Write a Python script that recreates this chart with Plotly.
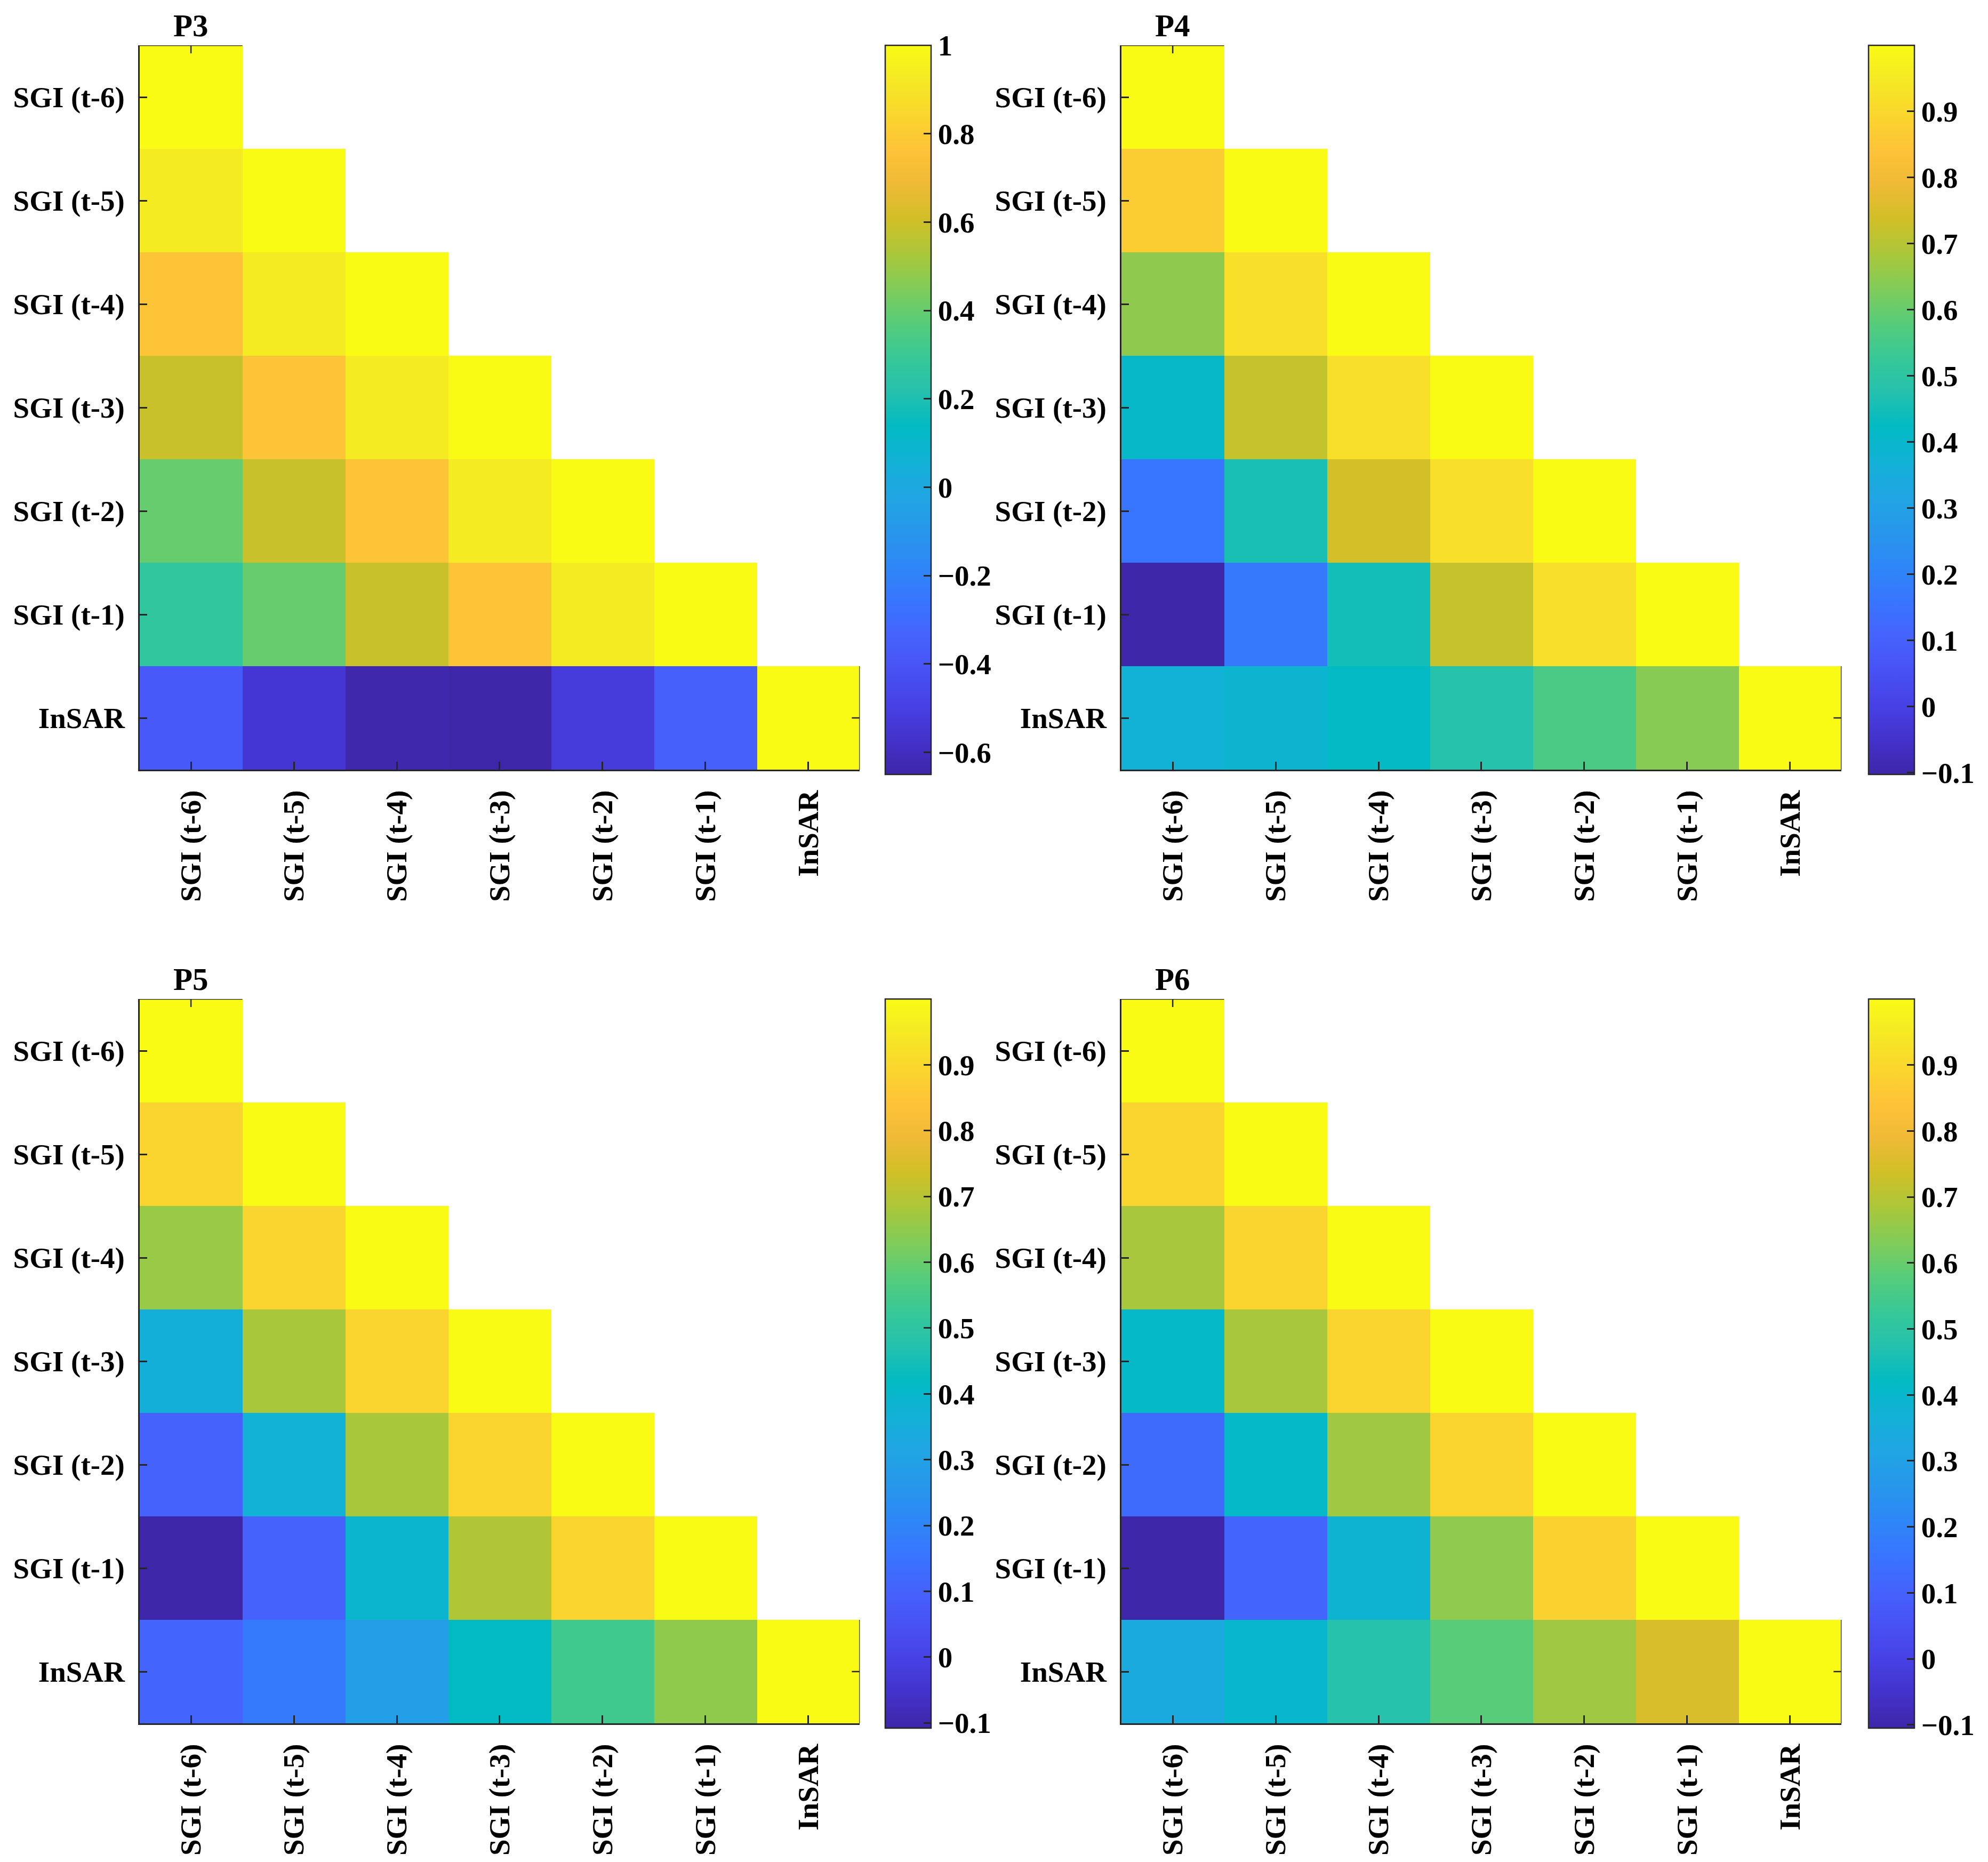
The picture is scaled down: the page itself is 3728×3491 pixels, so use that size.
import plotly.graph_objects as go

# variable names on both axes
labels = ["SGI (t-6)", "SGI (t-5)", "SGI (t-4)", "SGI (t-3)", "SGI (t-2)", "SGI (t-1)", "InSAR"]

# lower triangle of each correlation matrix, one row per label
p3_corr = [
    [1.0],
    [0.93, 1.0],
    [0.77, 0.93, 1.0],
    [0.59, 0.77, 0.93, 1.0],
    [0.40, 0.59, 0.77, 0.93, 1.0],
    [0.27, 0.40, 0.59, 0.77, 0.93, 1.0],
    [-0.38, -0.55, -0.64, -0.65, -0.52, -0.35, 1.0],
]
p4_corr = [
    [1.0],
    [0.87, 1.0],
    [0.65, 0.92, 1.0],
    [0.41, 0.72, 0.92, 1.0],
    [0.16, 0.46, 0.74, 0.92, 1.0],
    [-0.103, 0.17, 0.45, 0.72, 0.92, 1.0],
    [0.37, 0.39, 0.42, 0.48, 0.56, 0.64, 1.0],
]
p5_corr = [
    [1.0],
    [0.89, 1.0],
    [0.66, 0.89, 1.0],
    [0.36, 0.68, 0.89, 1.0],
    [0.10, 0.37, 0.68, 0.89, 1.0],
    [-0.108, 0.10, 0.39, 0.69, 0.89, 1.0],
    [0.11, 0.17, 0.29, 0.42, 0.54, 0.65, 1.0],
]
p6_corr = [
    [1.0],
    [0.89, 1.0],
    [0.68, 0.89, 1.0],
    [0.41, 0.68, 0.89, 1.0],
    [0.13, 0.41, 0.67, 0.89, 1.0],
    [-0.105, 0.11, 0.38, 0.65, 0.88, 1.0],
    [0.34, 0.40, 0.48, 0.58, 0.67, 0.75, 1.0],
]

panel_names = ["P3", "P4", "P5", "P6"]
panel_data = [p3_corr, p4_corr, p5_corr, p6_corr]
p3_cbar_ticks = [-0.6, -0.4, -0.2, 0, 0.2, 0.4, 0.6, 0.8, 1]
other_cbar_ticks = [-0.1, 0, 0.1, 0.2, 0.3, 0.4, 0.5, 0.6, 0.7, 0.8, 0.9]
cbar_ticks = [p3_cbar_ticks, other_cbar_ticks, other_cbar_ticks, other_cbar_ticks]

# MATLAB parula, every third entry of the 64-colour table
parula_rgb = [
    (0.2422, 0.1504, 0.6603), (0.2647, 0.1978, 0.7952), (0.2783, 0.2559, 0.8991),
    (0.2810, 0.3228, 0.9579), (0.2699, 0.3892, 0.9906), (0.2206, 0.4603, 0.9973),
    (0.1786, 0.5289, 0.9682), (0.1540, 0.5902, 0.9218), (0.1248, 0.6459, 0.8883),
    (0.0689, 0.6948, 0.8394), (0.0067, 0.7312, 0.7660), (0.1408, 0.7584, 0.6842),
    (0.2161, 0.7843, 0.5923), (0.3406, 0.8008, 0.4789), (0.5044, 0.7993, 0.3480),
    (0.6720, 0.7793, 0.2227), (0.8203, 0.7498, 0.1535), (0.9393, 0.7288, 0.2100),
    (0.9970, 0.7659, 0.2199), (0.9786, 0.8386, 0.1766), (0.9597, 0.9135, 0.1423),
    (0.9769, 0.9839, 0.0805),
]
parula = [[i / (len(parula_rgb) - 1), "rgb(%d,%d,%d)" % tuple(round(c * 255) for c in rgb)]
          for i, rgb in enumerate(parula_rgb)]

# the page body adds an 8px margin, so the figure is a little smaller than the window
PAD = 8
W, H = 3728 - 2 * PAD, 3491 - 2 * PAD
axis_col = "#262626"
font = dict(family="Liberation Serif", size=55, color="black", weight="bold")
title_font = dict(family="Liberation Serif", size=59, color="black", weight="bold")

# window-pixel boxes: columns (left, right, colorbar left), rows (top, bottom, colorbar bottom)
col_x = [(263, 1621, 1669), (2114, 3472, 3523)]
row_y = [(85, 1443, 1452), (1873, 3231, 3240)]


def full_matrix(tri):
    n = len(labels)
    return [[tri[r][c] if c <= r else None for c in range(n)] for r in range(n)]


def fx(px):
    return (px - PAD) / W


def fy(px):
    return 1 - (px - PAD) / H


fig = go.Figure()
layout = dict(width=W, height=H, margin=dict(l=0, r=0, t=0, b=0),
              paper_bgcolor="white", plot_bgcolor="white", font=font,
              showlegend=False, shapes=[], annotations=[])

n = len(labels)
for k, (name, tri) in enumerate(zip(panel_names, panel_data)):
    r, c = divmod(k, 2)
    x_l, x_r, cb_x = col_x[c]
    y_t, y_b, cb_b = row_y[r]
    sfx = "" if k == 0 else str(k + 1)
    xa, ya = "x" + sfx, "y" + sfx

    fig.add_trace(go.Heatmap(
        z=full_matrix(tri), x=labels, y=labels, xaxis=xa, yaxis=ya,
        colorscale=parula, hoverongaps=False,
        colorbar=dict(
            x=fx(cb_x), xanchor="left", y=fy(y_t), yanchor="top",
            thickness=86, len=cb_b - y_t, lenmode="pixels", xpad=0, ypad=0,
            outlinewidth=2.5, outlinecolor=axis_col,
            tickvals=cbar_ticks[k], ticks="inside", ticklen=15, tickwidth=2.5,
            tickcolor=axis_col, tickfont=font),
    ))

    layout["xaxis" + sfx] = dict(
        domain=[fx(x_l), fx(x_r)], anchor=ya, type="category",
        showline=True, linecolor=axis_col, linewidth=2.5, showgrid=False, zeroline=False,
        ticks="inside", ticklen=15, tickwidth=2.5, tickcolor=axis_col,
        tickangle=-90, ticklabelstandoff=14, tickfont=font, range=[-0.5, n - 0.5])
    layout["yaxis" + sfx] = dict(
        domain=[fy(y_b), fy(y_t)], anchor=xa, type="category",
        showline=True, linecolor=axis_col, linewidth=2.5, showgrid=False, zeroline=False,
        ticks="inside", ticklen=15, tickwidth=2.5, tickcolor=axis_col,
        ticklabelstandoff=14, tickfont=font, range=[n - 0.5, -0.5])

    # box edges left visible by the blank upper triangle
    line = dict(color=axis_col, width=2.5)
    layout["shapes"] += [
        dict(type="line", xref=xa, yref=ya, x0=-0.5, x1=0.5, y0=-0.5, y1=-0.5, line=line),
        dict(type="line", xref=xa, yref=ya, x0=n - 0.5, x1=n - 0.5, y0=n - 1.5, y1=n - 0.5, line=line),
        dict(type="line", xref=xa, yref=ya, xsizemode="scaled", ysizemode="pixel",
             yanchor=-0.5, x0=0, x1=0, y0=0, y1=-15, line=line),
        dict(type="line", xref=xa, yref=ya, xsizemode="pixel", ysizemode="scaled",
             xanchor=n - 0.5, x0=0, x1=-15, y0=n - 1, y1=n - 1, line=line),
    ]
    layout["annotations"].append(dict(
        text=name, xref=xa, x=0, yref=ya + " domain", y=1, yanchor="bottom",
        yshift=2, showarrow=False, font=title_font))

fig.update_layout(**layout)
fig.write_html("out.html")
